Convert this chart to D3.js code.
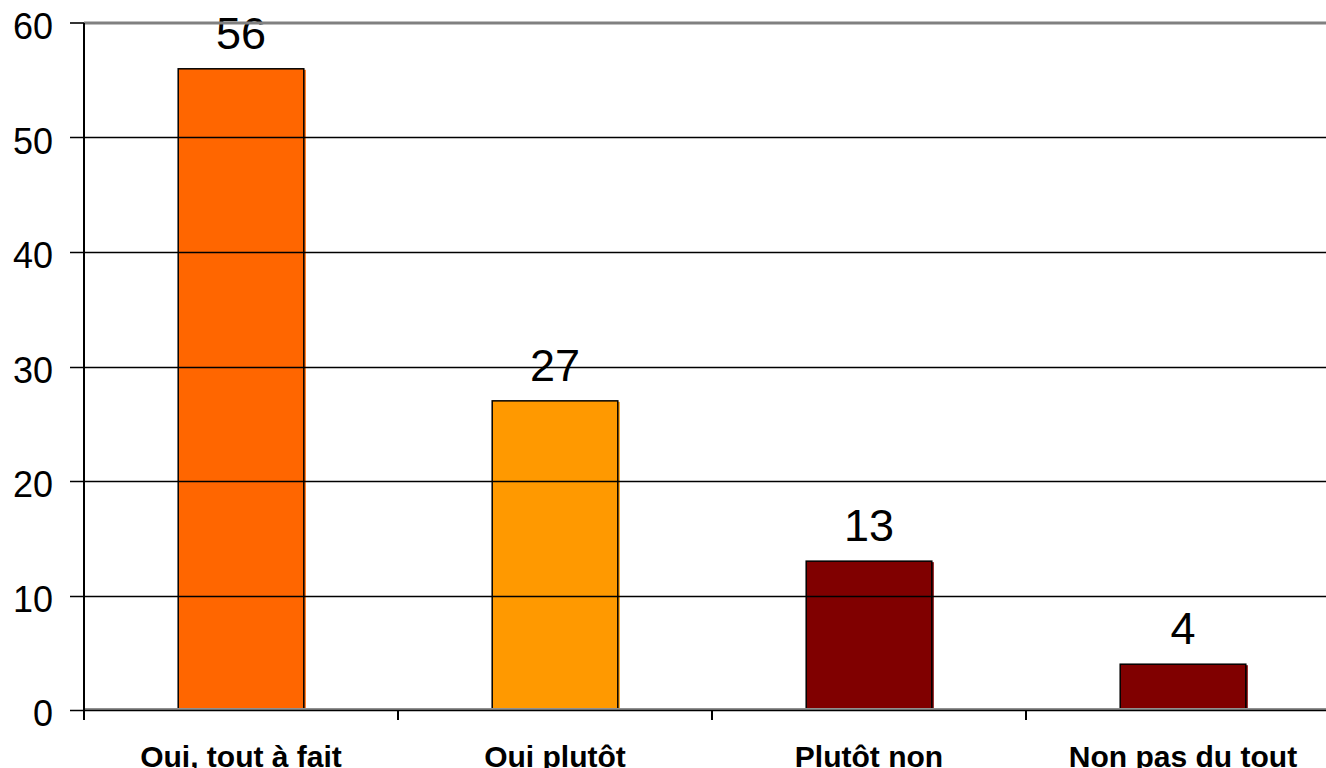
<!DOCTYPE html>
<html><head><meta charset="utf-8">
<script src="https://cdn.jsdelivr.net/npm/d3@7"></script>
<style>html,body{margin:0;padding:0;background:#fff;overflow:hidden}</style>
</head><body>
<svg id="c" width="1326" height="768"></svg>
<script>
const categories = ["Oui, tout à fait", "Oui plutôt", "Plutôt non", "Non pas du tout"];
const values = [56, 27, 13, 4];
const colors = ["#FF6600", "#FF9900", "#800000", "#800000"];
const yTicks = [0, 10, 20, 30, 40, 50, 60];

(function () {
const svg = d3.select("#c");
const pl = 84, pr = 1340, pt = 23, pb = 710;
const x = d3.scaleBand().domain(categories).range([pl, pr]).paddingInner(0.6).paddingOuter(0.3);
const xc = d3.scaleBand().domain(categories).range([pl, pr]).padding(0);
const y = d3.scaleLinear().domain([0, 60]).range([pb, pt]);
const font = "'Liberation Sans', Arial, sans-serif";

// y tick labels
svg.append("g").selectAll("text").data(yTicks).join("text")
  .attr("x", 53).attr("y", d => y(d) + 16)
  .attr("text-anchor", "end").attr("font-family", font).attr("font-size", 36)
  .attr("fill", "#000").text(d => d);

// bars (with slight fill offset like the original)
const bars = svg.append("g");
bars.selectAll("rect.f").data(values).join("rect").attr("class", "f")
  .attr("x", (d, i) => x(categories[i]) + 2).attr("y", d => y(d) + 1)
  .attr("width", x.bandwidth()).attr("height", d => pb - y(d) - 1)
  .attr("fill", (d, i) => colors[i]);
bars.selectAll("rect.o").data(values).join("rect").attr("class", "o")
  .attr("x", (d, i) => x(categories[i])).attr("y", d => y(d))
  .attr("width", x.bandwidth()).attr("height", d => pb - y(d))
  .attr("fill", (d, i) => colors[i]).attr("stroke", "#000").attr("stroke-width", 1.5);

// value labels
svg.append("g").selectAll("text").data(values).join("text")
  .attr("x", (d, i) => x(categories[i]) + x.bandwidth() / 2)
  .attr("y", d => y(d) - 20)
  .attr("text-anchor", "middle").attr("font-family", font).attr("font-size", 45)
  .attr("fill", "#000").text(d => d);

// gridlines (drawn over labels, as in original)
svg.append("g").selectAll("line").data(yTicks.filter(d => d > 0 && d < 60)).join("line")
  .attr("x1", 70).attr("x2", 1326).attr("y1", d => Math.round(y(d)) + 0.5).attr("y2", d => Math.round(y(d)) + 0.5)
  .attr("stroke", "#000").attr("stroke-width", 1.6);

// top border (gray)
svg.append("line").attr("x1", pl).attr("x2", 1326).attr("y1", y(60)).attr("y2", y(60))
  .attr("stroke", "#808080").attr("stroke-width", 3);
svg.append("line").attr("x1", 70).attr("x2", pl).attr("y1", y(60)).attr("y2", y(60))
  .attr("stroke", "#000").attr("stroke-width", 1.6);

// bottom axis
svg.append("line").attr("x1", pl).attr("x2", 1326).attr("y1", pb - 1).attr("y2", pb - 1)
  .attr("stroke", "#909090").attr("stroke-width", 2);
svg.append("line").attr("x1", 70).attr("x2", 1326).attr("y1", pb + 0.5).attr("y2", pb + 0.5)
  .attr("stroke", "#000").attr("stroke-width", 1.6);
// category ticks
svg.append("g").selectAll("line").data(categories).join("line")
  .attr("x1", d => xc(d)).attr("x2", d => xc(d)).attr("y1", pb).attr("y2", 720)
  .attr("stroke", "#000").attr("stroke-width", 2);

// y axis
svg.append("line").attr("x1", pl).attr("x2", pl).attr("y1", pt).attr("y2", 720)
  .attr("stroke", "#000").attr("stroke-width", 2);

// category labels
svg.append("g").selectAll("text").data(categories).join("text")
  .attr("x", d => xc(d) + xc.bandwidth() / 2).attr("y", 767)
  .attr("text-anchor", "middle").attr("font-family", font).attr("font-size", 30)
  .attr("font-weight", "bold").attr("fill", "#000").text(d => d);
})();
</script>
</body></html>
